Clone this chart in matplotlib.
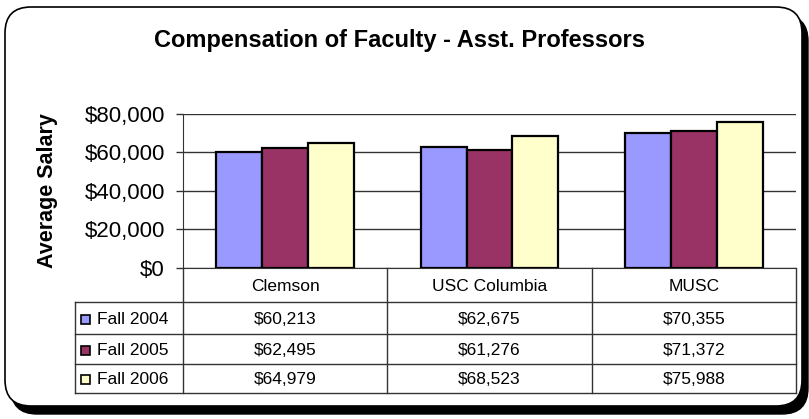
import matplotlib.pyplot as plt
from matplotlib.patches import FancyBboxPatch, Rectangle
from matplotlib.ticker import FuncFormatter

schools = ["Clemson", "USC Columbia", "MUSC"]
terms = ["Fall 2004", "Fall 2005", "Fall 2006"]
fall_2004 = [60213, 62675, 70355]
fall_2005 = [62495, 61276, 71372]
fall_2006 = [64979, 68523, 75988]
colors = ["#9999FF", "#993366", "#FFFFCC"]

plt.rcParams["font.family"] = ["Liberation Sans", "DejaVu Sans"]

W, H = 809, 419
fig = plt.figure(figsize=(W / 100, H / 100), dpi=100)

# background axes in pixel coords (y down) for border + table
bg = fig.add_axes([0, 0, 1, 1], zorder=0)
bg.set_xlim(0, W)
bg.set_ylim(H, 0)
bg.axis("off")

shadow = FancyBboxPatch((11, 15), 797, 399, boxstyle="round,pad=0,rounding_size=26",
                        facecolor="black", edgecolor="black")
box = FancyBboxPatch((5, 7), 797, 399, boxstyle="round,pad=0,rounding_size=26",
                     facecolor="white", edgecolor="black", lw=1.2)
bg.add_patch(shadow)
bg.add_patch(box)

# main bar chart
ax = fig.add_axes([183 / W, 1 - 268 / H, (796 - 183) / W, (268 - 114) / H], zorder=2)
ax.patch.set_alpha(0)
series = [fall_2004, fall_2005, fall_2006]
width = 0.225
x = list(range(len(schools)))
for i, vals in enumerate(series):
    ax.bar([xi + (i - 1) * width for xi in x], vals, width=width, color=colors[i],
           edgecolor="black", linewidth=1.6, zorder=3)

ax.set_xlim(-0.5, len(schools) - 0.5)
ax.set_ylim(0, 80000)
ax.set_yticks([0, 20000, 40000, 60000, 80000])
ax.yaxis.set_major_formatter(FuncFormatter(lambda v, p: f"${v:,.0f}"))
ax.grid(axis="y", color="#333333", linewidth=1, zorder=0)
ax.set_xticks([])
for s in ["top", "right"]:
    ax.spines[s].set_visible(False)
ax.spines["left"].set_color("#333333")
ax.spines["bottom"].set_color("#333333")
ax.tick_params(axis="y", length=5, width=1, color="#333333", labelsize=16, pad=8)
ax.set_ylabel("Average Salary", fontsize=15.5, fontweight="bold", labelpad=19)

fig.text(400 / W, 1 - 40 / H, "Compensation of Faculty - Asst. Professors",
         ha="center", va="center", fontsize=17, fontweight="bold")

# data table under the axis, columns aligned with categories
fig.canvas.draw()
to_px = lambda xd: bg.transData.inverted().transform(ax.transData.transform((xd, 0)))[0]
edges = [to_px(i - 0.5) for i in range(len(schools) + 1)]
lc = "#333333"
top_y, head_y = 268, 302
row_ys = [302, 334, 364, 393]
left_x = 75

# vertical lines
for i, e in enumerate(edges):
    bg.plot([e, e], [top_y, row_ys[-1]], color=lc, lw=1)
bg.plot([left_x, left_x], [head_y, row_ys[-1]], color=lc, lw=1)
# horizontal lines
for y in row_ys:
    bg.plot([left_x, edges[-1]], [y, y], color=lc, lw=1)

for j, name in enumerate(schools):
    bg.text((edges[j] + edges[j + 1]) / 2, (top_y + head_y) / 2 + 1, name,
            ha="center", va="center", fontsize=12.5)

for r, (term, vals) in enumerate(zip(terms, series)):
    yc = (row_ys[r] + row_ys[r + 1]) / 2 + 1
    bg.add_patch(Rectangle((81, yc - 4.5), 9, 9, facecolor=colors[r],
                           edgecolor="black", lw=1.2))
    bg.text(97, yc, term, ha="left", va="center", fontsize=12.5)
    for j, v in enumerate(vals):
        bg.text((edges[j] + edges[j + 1]) / 2, yc, f"${v:,}",
                ha="center", va="center", fontsize=12.5)

fig.savefig("out.png", dpi=100)
